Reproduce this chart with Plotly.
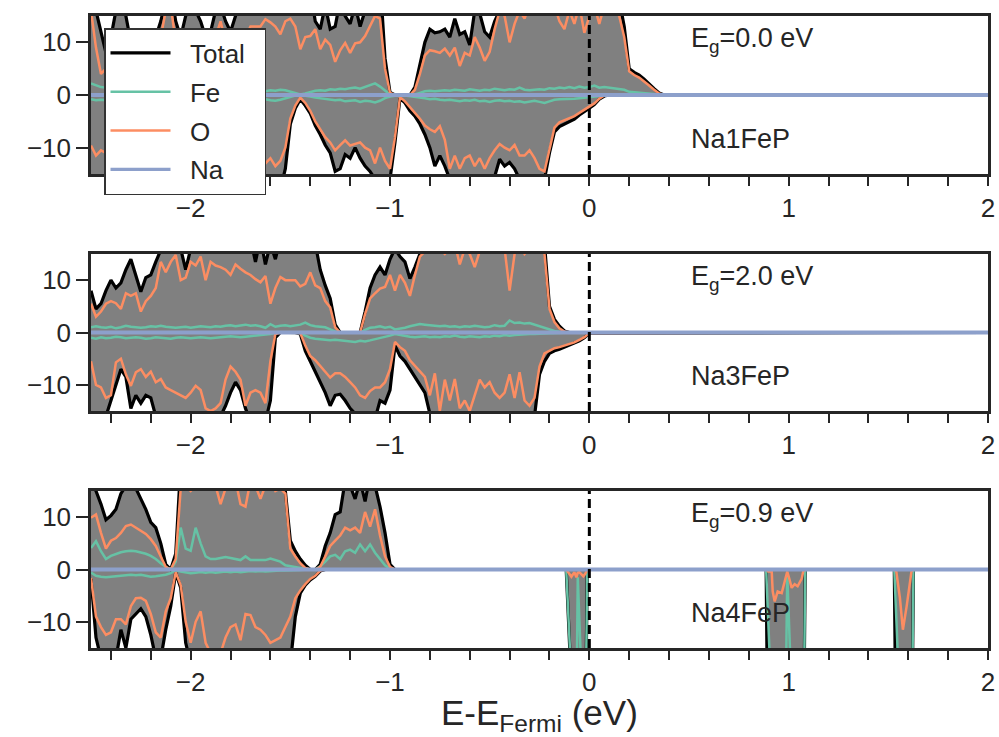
import plotly.graph_objects as go

# ---------------------------------------------------------------------------
# Spin-resolved projected DOS (states/eV), energies relative to E_Fermi (eV).
# Main bands are sampled on a 0.025 eV grid starting at -2.5 eV.
# ---------------------------------------------------------------------------
STEP = 0.025
E_MIN, E_MAX = -2.5, 2.0

# ---- Na1FeP ----------------------------------------------------------------
tot_up1 = [
    20, 16, 12, 8, 11, 16, 18, 15, 10, 9,
    8, 9, 10, 11, 14, 18, 20, 14, 11, 15,
    17, 16, 14, 11, 12, 16, 17, 14, 12, 15,
    18, 16, 19, 17, 18, 20, 22, 19, 20, 23,
    20, 21, 19, 18, 20, 14, 12.5, 17, 12.5, 13,
    18, 15, 13.5, 17, 13, 16, 20, 18, 22, 7,
    0.5, 0, 0, 0, 0, 1.5, 6, 10, 12.5, 11.8,
    12, 12.5, 11, 14.5, 11.5, 12, 9.5, 16, 15.5, 12,
    11, 14, 16, 19, 17, 18, 20, 19, 21, 22,
    20, 19, 21, 20, 18, 17, 20, 18, 21, 17,
    19, 21, 18, 20, 21, 19, 18, 13, 5, 4.3,
    3.8, 3, 2, 1.2, 0.4, 0, 0]
tot_dn1 = [
    -18, -17, -18, -16, -17, -18, -19, -17, -16, -18,
    -17, -16, -18, -19, -17, -16, -18, -17, -19, -18,
    -17, -16, -18, -17, -19, -18, -17, -16, -18, -17,
    -19, -18, -17, -18, -18, -18, -19, -18, -18, -14,
    -5.5, -2.5, -0.8, -2, -3.5, -5.8, -7.5, -9.5, -11, -14.5,
    -14, -11.3, -12, -10, -12, -13.5, -14.5, -16, -17, -18,
    -16, -9, -0.6, -1.5, -3, -4, -5.5, -7.5, -10, -13.5,
    -11.5, -13.5, -16, -15.5, -16, -15.5, -16, -17, -16, -15.5,
    -16, -15.5, -12.2, -13.5, -12.8, -14, -16, -15.5, -16, -16,
    -16.5, -16, -11, -7, -6, -5.5, -5, -4.6, -3.8, -3.2,
    -2.5, -1.8, -0.8, -0.2, 0, 0, 0, 0, 0, 0,
    0, 0, 0, 0, 0, 0, 0]
o_up1 = [
    16, 9, 4, 5, 7, 9, 10, 9, 7, 6.5,
    6, 6.5, 7, 8, 11, 16, 17, 10, 8, 9,
    11, 10, 9, 8, 8, 11, 14, 10, 9, 10,
    12, 11, 13, 13, 13, 14.4, 13.8, 13, 11.5, 14,
    14.5, 13, 8.7, 11, 11.2, 12.5, 8.7, 10.5, 9.5, 6.3,
    8.5, 9.9, 8, 9.8, 10, 11.2, 13, 15, 14.5, 5,
    0.4, 0, 0, 0, 0, 1, 4, 7.5, 8.5, 8.3,
    8, 8.8, 7.5, 9, 5.5, 8, 7.5, 11, 9, 6.5,
    8.2, 12.5, 16, 15, 10, 13.5, 16, 14.5, 17, 18,
    17, 16, 18, 17, 14, 12.5, 16, 13.5, 17, 11.8,
    15, 17, 13.5, 17, 18, 16, 15, 11, 4.5, 3.8,
    3.3, 2.6, 1.8, 1.0, 0.3, 0, 0]
o_dn1 = [
    -9.6, -11.5, -10.5, -11, -12, -10, -9, -11, -13, -12,
    -10, -9, -11, -12, -13, -11, -10, -12, -11, -13,
    -12, -10, -11, -12, -11, -13, -12, -10, -11, -12,
    -13, -11, -12, -11, -11.5, -13, -12, -13.5, -12.5, -10,
    -4.5, -2, -0.5, -1.5, -3, -5, -6.5, -8, -9, -10.5,
    -9.5, -8.6, -9.6, -9.3, -9, -10, -10.5, -13, -10, -12.5,
    -14, -8, -0.4, -1.2, -2.3, -3.3, -4.5, -5.8, -6.5, -7,
    -5.9, -8.5, -14, -11.5, -14, -12, -11.5, -13.5, -12, -14,
    -12, -10.5, -9.3, -10, -10.5, -9.5, -11.5, -11.5, -10.5, -12,
    -14, -14.5, -10, -6.2, -5.2, -4.8, -4.4, -4, -3.4, -2.8,
    -2.2, -1.6, -0.7, -0.1, 0, 0, 0, 0, 0, 0,
    0, 0, 0, 0, 0, 0, 0]
fe_up1 = [
    2.2, 1.8, 1.5, 1.4, 1.2, 1.3, 1.5, 1.2, 1.1, 1.3,
    1.4, 1.2, 1.0, 1.2, 1.3, 1.5, 1.4, 1.2, 1.1, 1.0,
    1.2, 1.3, 1.1, 1.2, 1.0, 0.9, 1.1, 1.2, 1.0, 0.9,
    1.1, 1.0, 0.8, 0.9, 0.6, 0.7, 0.9, 0.8, 1.0, 0.9,
    0.6, 0.3, 0.1, 0.3, 0.6, 0.8, 0.9, 0.8, 1.1, 1.0,
    1.2, 1.1, 1.3, 1.4, 1.2, 1.5, 1.9, 2.2, 1.6, 0.8,
    0.1, 0, 0, 0, 0, 0.1, 0.4, 0.7, 0.8, 0.7,
    0.8, 0.9, 0.8, 1.0, 0.9, 0.8, 1.1, 0.9, 0.8, 1.0,
    0.9, 1.2, 1.0, 0.9, 1.1, 1.0, 1.4, 1.0, 0.9, 1.0,
    1.1, 1.0, 1.3, 1.2, 1.4, 1.3, 1.5, 1.3, 1.6, 1.4,
    1.5, 1.8, 1.4, 1.5, 1.4, 1.3, 1.2, 1.0, 0.6, 0.5,
    0.4, 0.3, 0.2, 0.1, 0.05, 0, 0]
fe_dn1 = [
    -0.8, -1.0, -0.9, -0.9, -1.0, -1.1, -0.9, -0.8, -1.0, -1.1,
    -1.2, -1.0, -0.9, -0.8, -1.0, -1.1, -0.9, -1.0, -1.2, -1.1,
    -0.9, -0.8, -1.0, -1.1, -1.0, -0.9, -1.0, -1.2, -1.1, -1.0,
    -0.9, -1.0, -1.1, -1.0, -0.9, -0.8, -1.0, -1.1, -0.9, -0.6,
    -0.3, -0.1, 0, -0.1, -0.3, -0.5, -0.6, -0.7, -0.8, -1.0,
    -0.9, -1.2, -1.1, -1.0, -1.3, -1.1, -1.2, -1.4, -1.1, -0.6,
    -0.3, -0.2, 0, -0.1, -0.2, -0.3, -0.5, -0.6, -0.8, -0.7,
    -0.9, -1.0, -0.9, -1.1, -1.2, -1.0, -1.1, -0.9, -1.2, -1.1,
    -1.3, -1.1, -1.0, -1.2, -1.1, -1.3, -1.2, -1.4, -1.2, -1.1,
    -1.3, -1.5, -1.2, -0.9, -0.8, -0.8, -0.7, -0.7, -0.6, -0.5,
    -0.4, -0.3, -0.15, -0.05, 0, 0, 0, 0, 0, 0,
    0, 0, 0, 0, 0, 0, 0]

# ---- Na3FeP ----------------------------------------------------------------
tot_up2 = [
    8, 4.5, 5.5, 8, 10, 8.5, 9.5, 12, 14, 11,
    7.8, 10.5, 11, 13.5, 16, 18, 17, 19, 16, 12,
    16, 18, 19, 20, 17, 19, 21, 18, 20, 19,
    17, 20, 18, 13.5, 18, 13, 17, 14, 18, 20,
    19, 21, 18, 20, 19, 17, 12, 9, 6.5, 1.5,
    0, 0, 0, 0, 0, 4, 8.5, 11, 12.5, 11,
    14, 16, 14.5, 13.5, 10.3, 12.5, 15, 19, 20, 21,
    20, 19, 21, 20, 19, 21, 20, 18, 20, 21,
    22, 20, 21, 19, 18, 20, 21, 19, 20, 21,
    19, 17, 5, 2.5, 1.2, 0.3, 0, 0, 0, 0,
    0]
tot_dn2 = [
    -16, -17, -18, -16, -13, -10, -7, -8.5, -14.5, -12,
    -13.5, -12, -12.5, -16, -18, -17, -18, -19, -17, -18,
    -17, -16, -18, -19, -18, -17, -16, -14, -11.5, -9.5,
    -11, -14.5, -17, -18, -18, -17, -13, -1, 0, 0,
    0, 0, -0.3, -3.5, -5.5, -7.5, -9.5, -11.5, -14, -12,
    -11.8, -13, -14.5, -15.5, -16, -17, -16, -16.5, -13, -13.5,
    -11, -2.5, -4.5, -5.5, -7, -8.5, -10, -11.5, -15.5, -16,
    -17, -16, -18, -16, -17, -18, -17, -16, -16.5, -18,
    -17, -16, -17, -16, -15.5, -16, -17, -16, -17, -16,
    -8, -5.5, -4, -3.5, -3.2, -2.8, -2.4, -2.1, -1.6, -1.0,
    -0.1]
o_up2 = [
    5.5, 3, 4, 5.5, 6, 5.6, 4.5, 7.5, 7, 7.5,
    4, 6, 7, 8.5, 13.5, 11.5, 13.5, 14.8, 10, 10.5,
    13.5, 12.8, 14.5, 10, 13.5, 12.8, 12.5, 12, 11, 13,
    12.2, 11.5, 11, 10.2, 9.6, 10.8, 5.5, 8.5, 10.6, 10,
    10, 10, 8.8, 9.3, 11.5, 9, 8.5, 6, 4.8, 1,
    0, 0, 0, 0, 0, 3.5, 6.5, 7.5, 8.4, 8.7,
    11, 8, 11, 9.5, 7, 11, 14.5, 15.5, 16, 16,
    16, 15, 16, 17, 13, 16, 15, 12.5, 15.5, 16,
    17, 16, 17, 16, 8, 15, 17, 15, 16, 17,
    16, 15, 4.5, 2, 0.8, 0.2, 0, 0, 0, 0,
    0]
o_dn2 = [
    -5.5, -10, -10.5, -12.5, -12, -5.7, -5, -8, -10.2, -7.6,
    -7, -8.5, -7.5, -9.5, -8.9, -10.5, -11, -11.5, -12, -12.5,
    -11.5, -10.2, -11, -14.5, -15, -14.5, -13.5, -9, -6.5, -7.5,
    -9, -14, -11.5, -11, -11.5, -13.5, -5.5, -0.3, 0, 0,
    0, 0, -0.1, -2.5, -4.5, -5.3, -6.5, -7.5, -8.6, -7.8,
    -7.8, -8.5, -9.5, -10.5, -12, -12.5, -11.2, -10.5, -10.5, -9.5,
    -7, -1.8, -2.8, -3.5, -5.3, -6.3, -7.5, -8.5, -12, -7.8,
    -15, -9, -13, -8.9, -14.5, -13, -15, -12, -9, -10.5,
    -9.5, -11.5, -12.5, -11.5, -8, -12.5, -7.6, -13, -14, -12.5,
    -6.5, -4, -3.5, -3, -2.8, -2.5, -2.2, -1.9, -1.4, -0.9,
    -0.1]
fe_up2 = [
    1.0, 1.2, 1.0, 0.9, 1.1, 0.8, 1.0, 1.3, 1.1, 1.0,
    0.9, 1.0, 1.2, 1.1, 1.3, 1.1, 1.0, 0.9, 1.0, 1.1,
    0.9, 1.0, 1.2, 1.1, 1.0, 1.2, 1.1, 1.3, 1.4, 1.2,
    1.3, 1.5, 1.3, 1.4, 1.2, 0.9, 1.6, 1.1, 1.3, 1.4,
    1.2, 1.3, 1.5, 1.9, 1.4, 1.2, 1.1, 1.0, 0.6, 0.2,
    0, 0, 0, 0, 0, 0.5, 0.9, 1.0, 1.2, 0.9,
    1.1, 0.6, 0.7, 0.9, 1.2, 1.4, 1.6, 1.5, 1.4, 1.3,
    1.2, 1.3, 1.1, 1.2, 1.0, 1.2, 1.1, 1.3, 1.2, 1.0,
    1.1, 1.4, 1.2, 1.3, 2.3, 1.8, 1.9, 1.7, 1.8, 1.5,
    1.2, 0.9, 0.5, 0.3, 0.15, 0.05, 0, 0, 0, 0,
    0]
fe_dn2 = [
    -1.0, -1.2, -0.9, -1.1, -1.0, -0.8, -0.9, -1.1, -1.0, -0.9,
    -1.0, -1.2, -1.1, -0.9, -1.0, -1.1, -1.2, -1.0, -0.9, -1.0,
    -1.1, -1.0, -0.9, -1.0, -1.1, -1.0, -0.9, -0.8, -0.7, -0.8,
    -0.9, -0.8, -0.7, -0.6, -0.5, -0.4, -0.3, 0, 0, 0,
    0, 0, -0.1, -0.6, -1.0, -1.2, -1.3, -1.4, -1.5, -1.4,
    -1.5, -1.6, -1.7, -1.8, -1.6, -1.7, -1.5, -1.3, -1.1, -0.9,
    -0.6, -0.3, -0.5, -0.7, -0.8, -0.9, -0.8, -0.7, -0.9, -0.8,
    -0.9, -0.7, -0.8, -0.6, -0.8, -0.9, -0.7, -0.8, -0.9, -0.7,
    -0.8, -0.6, -0.7, -0.5, -0.6, -0.5, -0.4, -0.4, -0.3, -0.3,
    -0.2, -0.2, -0.15, -0.1, -0.1, -0.05, -0.05, 0, 0, 0,
    0]

# ---- Na4FeP (valence region) -----------------------------------------------
tot_up3 = [
    17, 15, 12.5, 9.5, 10.3, 11.5, 14.5, 16, 16, 15.5,
    13.5, 11.5, 9, 8, 5, 1, 0, 3, 20, 19,
    21, 20, 22, 20, 21, 19, 20, 22, 21, 20,
    19, 21, 22, 20, 19, 21, 22, 20, 20, 15,
    5.5, 3.5, 2, 0.8, 0, 0, 1, 4.5, 7, 10.5,
    11, 17, 16, 13.5, 17, 13, 18, 16, 12, 7,
    1, 0]
tot_dn3 = [
    -1.8, -13, -17, -18, -16, -17, -11.5, -15, -9.5, -8.5,
    -7.5, -9, -12.5, -17, -17, -11.5, -7, -0.6, -3.5, -14,
    -18, -17, -19, -18, -20, -19, -18, -17, -18, -19,
    -18, -17, -18, -19, -18, -17, -18, -19, -18, -17,
    -18, -9, -4.5, -3, -2, -1.3, -0.3, 0, 0, 0,
    0, 0, 0, 0, 0, 0, 0, 0, 0, 0,
    0, 0]
o_up3 = [
    9.9, 10.5, 7, 4, 5.5, 6, 7, 8.3, 8.6, 8,
    7.5, 6.8, 5.8, 4.5, 2.5, 0.5, 0, 2, 15.5, 16,
    15, 16, 17, 16, 17, 16, 12.5, 15.5, 16, 17,
    12.5, 12, 17, 16, 13.5, 16, 17, 15, 15.5, 14.5,
    4, 2.5, 1.2, 0.3, 0, 0, 0.5, 2.5, 4.5, 5.5,
    6.5, 8, 7.5, 8, 7, 11, 8.2, 11.5, 6.5, 2.5,
    0.5, 0]
o_dn3 = [
    -1.6, -9, -11, -12.5, -12, -9.5, -9.5, -10.5, -7, -5.5,
    -5.4, -6, -8.5, -12, -13, -8, -5.5, -0.5, -3, -10,
    -14, -10, -8, -14, -16, -17, -16, -13, -11, -10.5,
    -13.5, -8.5, -8.7, -11, -11.5, -12.5, -14, -13.5, -13, -11,
    -9, -5.5, -4, -2.8, -1.8, -1.2, -0.2, 0, 0, 0,
    0, 0, 0, 0, 0, 0, 0, 0, 0, 0,
    0, 0]
fe_up3 = [
    4.1, 5.4, 3.5, 2, 2.6, 3, 3.3, 3.5, 3.6, 3.5,
    3.3, 3, 2.6, 2, 1.2, 0.5, 0, 1.5, 8, 4,
    3.6, 8, 5, 2.5, 2, 2, 2.2, 2.4, 2.2, 2,
    1.8, 2.5, 1.8, 1.8, 1.8, 1.8, 2.1, 1.8, 1.5, 0.8,
    0.6, 0.4, 0.3, 0.2, 0, 0, 0.6, 1.5, 2.5, 2.8,
    2, 3.5, 3.8, 3.2, 4.8, 3.5, 4.8, 3.2, 2, 0.8,
    0.2, 0]
fe_dn3 = [
    -0.6, -1.2, -1.4, -1.5, -1.4, -1.3, -1.2, -1.1, -1.0, -1.1,
    -1.0, -1.2, -1.4, -1.3, -1.2, -1.0, -0.7, -0.1, -0.4, -0.6,
    -0.7, -0.6, -0.5, -0.6, -0.5, -0.6, -0.5, -0.4, -0.5, -0.4,
    -0.5, -0.4, -0.3, -0.4, -0.3, -0.4, -0.3, -0.3, -0.2, -0.2,
    -0.2, -0.1, -0.1, -0.05, 0, 0, 0, 0, 0, 0,
    0, 0, 0, 0, 0, 0, 0, 0, 0, 0,
    0, 0]

# ---- Na4FeP in-gap minority-spin Fe states (irregular energies) -----------
gap_e = [-0.116, -0.090, -0.075, -0.065, -0.058, -0.050, -0.030, -0.020, -0.010,
         0.887, 0.897, 0.915, 0.920, 0.930, 0.945, 0.965, 0.980, 0.993, 1.005,
         1.015, 1.030, 1.045, 1.065, 1.073, 1.083,
         1.530, 1.540, 1.558, 1.573, 1.592, 1.616, 1.626]
gap_tot = [0, -22, -30, -30, -30, -30, -30, -30, 0,
           0, -40, -40, -40, -40, -40, -40, -40, -40, -40,
           -40, -40, -40, -40, -40, 0,
           0, -40, -40, -40, -40, -40, 0]
gap_fe = [0, -21, -30, -28, -1.5, -30, -30, -30, 0,
          0, -38, -40, -40, -40, -40, -40, -40, -1.0, -40,
          -40, -40, -40, -40, -38, 0,
          0, -38, -40, -40, -40, -38, 0]
gap_o = [0, -1.4, -0.5, -1.5, -0.6, -0.5, -1.3, -0.8, 0,
         0, -0.4, -0.4, -4.2, -6.1, -4.2, -4.5, -2.2, -0.4, -2.0,
         -3.5, -2.8, -3.2, -1.8, -0.4, 0,
         0, -0.4, -5.4, -11.5, -7.0, -0.4, 0]

# Na contributes essentially nothing in this window
na_e = [E_MIN, E_MAX]
na_up = [0.08, 0.08]
na_dn = [-0.08, -0.08]

compounds = ["Na1FeP", "Na3FeP", "Na4FeP"]
gaps = ["0.0", "2.0", "0.9"]

COL_TOT = "black"
COL_FE = "#66c2a5"
COL_O = "#fc8d62"
COL_NA = "#8da0cb"
FILL = "#808080"
INK = "#262626"
FONT = "Liberation Sans, Arial, Helvetica, sans-serif"
NBSP = "\u00a0"


def grid(n):
    return [round(E_MIN + STEP * k, 4) for k in range(n)]


def tail(vals, n_extra):
    return list(vals) + [0] * n_extra


def legend_label(name):
    return NBSP * 2 + name + NBSP * 2


# Assemble each panel: energies plus the six spin-resolved curves.
panels = []
e1 = grid(len(tot_up1)) + [E_MAX]
panels.append(dict(e=e1, tu=tail(tot_up1, 1), td=tail(tot_dn1, 1),
                   fu=tail(fe_up1, 1), fd=tail(fe_dn1, 1),
                   ou=tail(o_up1, 1), od=tail(o_dn1, 1)))
e2 = grid(len(tot_up2)) + [E_MAX]
panels.append(dict(e=e2, tu=tail(tot_up2, 1), td=tail(tot_dn2, 1),
                   fu=tail(fe_up2, 1), fd=tail(fe_dn2, 1),
                   ou=tail(o_up2, 1), od=tail(o_dn2, 1)))
ng = len(gap_e)
e3 = grid(len(tot_up3)) + gap_e + [E_MAX]
panels.append(dict(e=e3, tu=tail(tot_up3, ng + 1), td=list(tot_dn3) + gap_tot + [0],
                   fu=tail(fe_up3, ng + 1), fd=list(fe_dn3) + gap_fe + [0],
                   ou=tail(o_up3, ng + 1), od=list(o_dn3) + gap_o + [0]))

for p in panels:
    n = len(p["e"])
    assert all(len(p[k]) == n for k in ("tu", "td", "fu", "fd", "ou", "od")), n

domains = [(0.75, 1.0), (0.375, 0.6234), (0.0, 0.2484)]

fig = go.Figure()

for k, p in enumerate(panels):
    sfx = "" if k == 0 else str(k + 1)
    xa, ya = "x" + sfx, "y" + sfx
    e = p["e"]
    # grey band between spin-up and spin-down total DOS
    fig.add_trace(go.Scatter(x=e + e[::-1], y=p["tu"] + p["td"][::-1],
                             fill="toself", fillcolor=FILL, mode="lines",
                             line=dict(width=0), hoverinfo="skip",
                             showlegend=False, xaxis=xa, yaxis=ya))
    first = k == 0
    for name, key_u, key_d, col, w in (("Total", "tu", "td", COL_TOT, 3.2),
                                        ("Fe", "fu", "fd", COL_FE, 2.5),
                                        ("O", "ou", "od", COL_O, 2.5)):
        fig.add_trace(go.Scatter(x=e, y=p[key_u], mode="lines",
                                 name=legend_label(name),
                                 line=dict(color=col, width=w),
                                 showlegend=first, legendgroup=name,
                                 xaxis=xa, yaxis=ya))
        fig.add_trace(go.Scatter(x=e, y=p[key_d], mode="lines", name=name,
                                 line=dict(color=col, width=w),
                                 showlegend=False, legendgroup=name,
                                 xaxis=xa, yaxis=ya))
    fig.add_trace(go.Scatter(x=na_e, y=na_up, mode="lines",
                             name=legend_label("Na"),
                             line=dict(color=COL_NA, width=3.2),
                             showlegend=first, legendgroup="Na",
                             xaxis=xa, yaxis=ya))
    fig.add_trace(go.Scatter(x=na_e, y=na_dn, mode="lines", name="Na",
                             line=dict(color=COL_NA, width=3.2),
                             showlegend=False, legendgroup="Na",
                             xaxis=xa, yaxis=ya))

    # Fermi level
    fig.add_shape(type="line", x0=0, x1=0, y0=-15, y1=15, xref=xa, yref=ya,
                  line=dict(color="black", width=3, dash="9px,5px"),
                  layer="above")

    fig.add_annotation(x=0.5, y=10.4, xref=xa, yref=ya, xanchor="left",
                       yanchor="middle", showarrow=False,
                       text=f"E<sub>g</sub>={gaps[k]} eV",
                       font=dict(size=27, color=INK, family=FONT))
    fig.add_annotation(x=0.5, y=-8.4, xref=xa, yref=ya, xanchor="left",
                       yanchor="middle", showarrow=False,
                       text=compounds[k],
                       font=dict(size=27, color=INK, family=FONT))

    axis_common = dict(showline=True, linewidth=2.5, linecolor=INK, mirror=True,
                       showgrid=False, zeroline=False, ticks="outside",
                       tickwidth=2, tickcolor=INK, automargin=False,
                       tickfont=dict(size=26, color=INK, family=FONT))
    fig.update_layout({
        "xaxis" + sfx: dict(domain=[0, 1], range=[E_MIN, E_MAX], anchor=ya,
                            tickvals=[-2, -1, 0, 1, 2], ticklen=9,
                            minor=dict(dtick=0.2, tick0=0, ticks="outside",
                                       ticklen=9, tickwidth=2, tickcolor=INK,
                                       showgrid=False),
                            **axis_common),
        "yaxis" + sfx: dict(domain=list(domains[k]), range=[-15, 15], anchor=xa,
                            tickvals=[-10, 0, 10], ticklen=12,
                            **axis_common),
    })

fig.add_annotation(x=0.5, y=-0.106, xref="paper", yref="paper",
                   xanchor="center", yanchor="middle", showarrow=False,
                   text="E-E<sub>Fermi</sub> (eV)",
                   font=dict(size=35, color=INK, family=FONT))

fig.update_layout(
    width=999, height=737,
    margin=dict(l=91, r=11, t=16, b=89, autoexpand=False),
    plot_bgcolor="white", paper_bgcolor="white",
    font=dict(family=FONT, size=25, color=INK),
    legend=dict(x=0.0145, y=0.981, xanchor="left", yanchor="top",
                bgcolor="white", bordercolor="#333333", borderwidth=1.5,
                font=dict(size=26, color=INK, family=FONT),
                itemwidth=60, traceorder="grouped", tracegroupgap=2),
)

fig.write_html("out.html")
